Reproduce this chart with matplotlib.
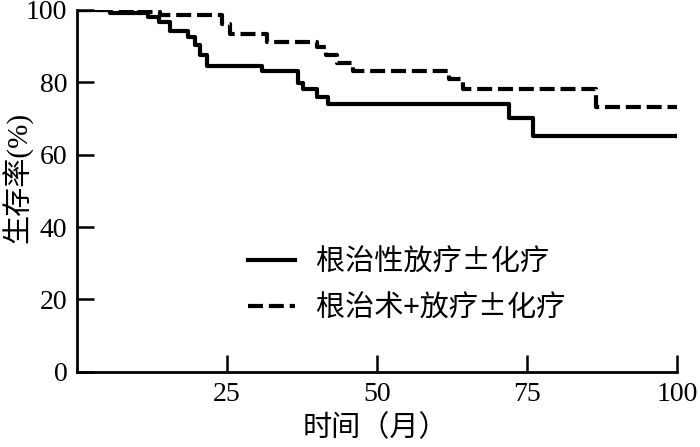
import matplotlib
matplotlib.use("Agg")
import matplotlib.pyplot as plt
from matplotlib.lines import Line2D

# Data (months, survival %)
t_solid = [0, 5.5, 11.8, 13.7, 15.5, 18.5, 19.7, 20.5, 21.7, 30.9, 36.9, 37.7, 40.0, 41.9, 72.0, 76.0, 100]
s_solid = [100, 99.2, 98.0, 96.6, 94.2, 92.5, 90.3, 87.6, 84.5, 83.1, 79.8, 78.2, 75.9, 74.0, 70.2, 65.2, 65.2]

t_dash = [0, 10.0, 13.8, 24.2, 25.5, 31.7, 40.0, 41.5, 43.4, 46.0, 62.0, 64.3, 86.5, 100]
s_dash = [100, 99.4, 98.6, 96.0, 93.4, 91.2, 89.8, 87.5, 85.4, 83.1, 81.0, 78.2, 73.2, 73.2]

label_solid = "根治性放疗±化疗"
label_dash = "根治术+放疗±化疗"
x_ticks = [25, 50, 75, 100]
y_ticks = [0, 20, 40, 60, 80, 100]
x_label = "时间（月）"
y_label = "生存率(%)"

serif = ["Liberation Serif", "Noto Sans CJK SC", "DejaVu Sans"]
cjk = ["Noto Sans CJK SC", "DejaVu Sans"]

fig = plt.figure(figsize=(7.0, 4.47), dpi=100)
ax = fig.add_axes([0.110, 0.168, 0.857, 0.810])

lw = 3.0
dash = (0, (3.6, 1.4))
ax.step(t_solid, s_solid, where="post", color="black", lw=lw, solid_capstyle="butt")
ax.step(t_dash, s_dash, where="post", color="black", lw=lw, linestyle=dash,
        dash_capstyle="butt")

ax.set_xlim(0, 100)
ax.set_ylim(0, 100)
ax.set_xticks(x_ticks)
ax.set_yticks(y_ticks)
for s in ["top", "right"]:
    ax.spines[s].set_visible(False)
for s in ["left", "bottom"]:
    ax.spines[s].set_linewidth(2.0)
ax.tick_params(direction="in", length=12, width=1.8, pad=7)
for lab in ax.get_xticklabels() + ax.get_yticklabels():
    lab.set_fontfamily(serif)
    lab.set_fontsize(20)

ax.set_xlabel(x_label, family=cjk, fontsize=21)
ax.xaxis.set_label_coords(0.497, -0.113)
ax.set_ylabel(y_label, family=serif, fontsize=21)
ax.yaxis.set_label_coords(-0.073, 0.536)

handles = [Line2D([], [], color="black", lw=lw),
           Line2D([], [], color="black", lw=lw, linestyle=dash)]
leg = ax.legend(handles, [label_solid, label_dash], loc="center left",
                bbox_to_anchor=(0.285, 0.239), frameon=False, borderpad=0,
                borderaxespad=0, handlelength=1.6, handletextpad=0.72,
                labelspacing=0.55, prop={"family": cjk, "size": 21})

fig.savefig("out.png", dpi=100)
